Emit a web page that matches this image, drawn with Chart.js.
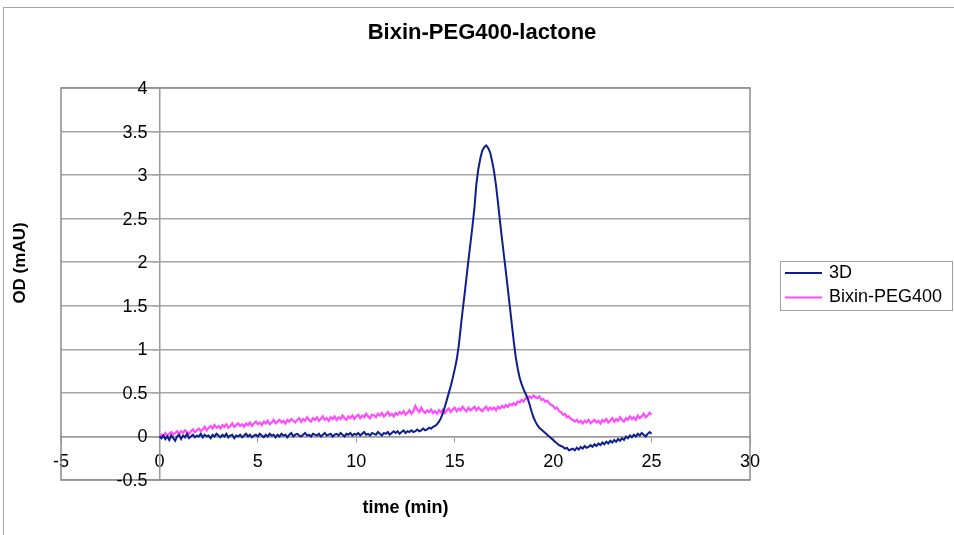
<!DOCTYPE html>
<html>
<head>
<meta charset="utf-8">
<script src="https://cdn.jsdelivr.net/npm/chart.js@4/dist/chart.umd.min.js"></script>
<style>
  html, body { margin: 0; padding: 0; background: #fff; }
  #wrap { width: 954px; height: 535px; position: relative; }
</style>
</head>
<body>
<div id="wrap"><canvas id="myChart" width="954" height="535"></canvas></div>
<script>
// sampling grid of the traces (min)
const timeStart = 0;
const timeStep = 0.1;

// 3D, one row per minute (0.1 min steps), 0 -> 25 min
const od3D = [
  0.00,-0.02,0.01,-0.03,0.00,-0.04,0.01,-0.02,-0.05,0.00,
  0.02,-0.03,0.01,-0.01,0.03,-0.02,0.00,0.02,-0.01,0.01,
  0.00,0.03,-0.01,0.02,0.00,0.01,-0.02,0.02,0.00,0.03,
  0.01,-0.01,0.02,0.00,0.03,-0.01,0.01,0.02,-0.02,0.01,
  0.00,0.02,-0.01,0.01,0.03,0.00,0.02,-0.01,0.01,0.02,
  0.00,0.03,0.01,-0.01,0.02,0.00,0.03,0.01,0.02,-0.01,
  0.02,0.00,0.03,0.01,0.02,-0.01,0.02,0.04,0.00,0.02,
  0.03,0.01,0.00,0.02,0.04,0.01,0.02,0.00,0.03,0.02,
  0.01,0.03,0.00,0.02,0.04,0.01,0.02,0.03,0.00,0.02,
  0.03,0.01,0.04,0.02,0.00,0.03,0.02,0.04,0.01,0.03,
  0.02,0.04,0.01,0.03,0.05,0.02,0.03,0.01,0.04,0.03,
  0.02,0.05,0.03,0.01,0.04,0.03,0.05,0.02,0.04,0.06,
  0.04,0.06,0.03,0.05,0.07,0.04,0.06,0.05,0.07,0.05,
  0.06,0.08,0.06,0.07,0.09,0.07,0.08,0.10,0.09,0.11,
  0.12,0.14,0.17,0.21,0.27,0.34,0.42,0.50,0.58,0.67,
  0.77,0.88,1.03,1.24,1.44,1.63,1.83,2.03,2.22,2.41,
  2.62,2.90,3.07,3.19,3.28,3.32,3.34,3.31,3.26,3.16,
  3.04,2.88,2.68,2.47,2.27,2.08,1.89,1.69,1.49,1.29,
  1.09,0.91,0.78,0.67,0.60,0.54,0.49,0.44,0.37,0.29,
  0.22,0.17,0.13,0.10,0.08,0.06,0.04,0.02,0.00,-0.02,
  -0.04,-0.06,-0.08,-0.10,-0.11,-0.12,-0.14,-0.13,-0.16,-0.15,
  -0.14,-0.16,-0.13,-0.15,-0.12,-0.14,-0.11,-0.13,-0.12,-0.10,
  -0.12,-0.09,-0.11,-0.08,-0.10,-0.07,-0.09,-0.06,-0.08,-0.05,
  -0.07,-0.04,-0.06,-0.03,-0.05,-0.02,-0.04,0.00,-0.02,0.01,
  -0.01,0.02,0.00,0.03,0.01,0.04,0.02,0.00,0.03,0.05,
  0.03
];

// Bixin-PEG400, same grid
const odBixin = [
  -0.01,0.02,0.00,0.04,0.01,0.03,0.05,0.02,0.04,0.06,
  0.03,0.06,0.04,0.07,0.05,0.03,0.06,0.08,0.05,0.07,
  0.09,0.06,0.08,0.11,0.07,0.10,0.12,0.09,0.13,0.10,
  0.12,0.09,0.13,0.11,0.14,0.10,0.12,0.15,0.11,0.13,
  0.15,0.12,0.14,0.11,0.15,0.13,0.16,0.12,0.15,0.17,
  0.14,0.16,0.13,0.17,0.15,0.18,0.14,0.16,0.19,0.15,
  0.17,0.19,0.16,0.18,0.15,0.19,0.17,0.20,0.18,0.16,
  0.19,0.21,0.17,0.20,0.18,0.22,0.19,0.17,0.21,0.19,
  0.22,0.18,0.20,0.23,0.19,0.21,0.18,0.22,0.20,0.23,
  0.19,0.22,0.20,0.24,0.21,0.19,0.23,0.21,0.24,0.20,
  0.23,0.25,0.21,0.24,0.22,0.26,0.23,0.21,0.25,0.24,
  0.22,0.26,0.24,0.27,0.23,0.25,0.28,0.24,0.26,0.23,
  0.27,0.25,0.28,0.26,0.29,0.25,0.27,0.30,0.26,0.29,
  0.35,0.31,0.28,0.33,0.29,0.27,0.30,0.28,0.31,0.27,
  0.29,0.26,0.30,0.28,0.31,0.27,0.30,0.32,0.28,0.31,
  0.33,0.29,0.32,0.30,0.34,0.31,0.29,0.33,0.30,0.32,
  0.34,0.30,0.33,0.31,0.29,0.32,0.34,0.30,0.33,0.31,
  0.33,0.30,0.34,0.32,0.35,0.33,0.36,0.34,0.37,0.36,
  0.38,0.36,0.40,0.39,0.42,0.40,0.44,0.43,0.46,0.44,
  0.47,0.45,0.44,0.46,0.42,0.43,0.40,0.41,0.38,0.36,
  0.35,0.32,0.33,0.29,0.28,0.25,0.26,0.22,0.23,0.20,
  0.19,0.17,0.19,0.16,0.18,0.15,0.18,0.16,0.19,0.15,
  0.17,0.19,0.16,0.18,0.15,0.19,0.17,0.20,0.16,0.18,
  0.21,0.17,0.20,0.18,0.22,0.19,0.17,0.21,0.19,0.23,
  0.20,0.22,0.19,0.24,0.21,0.23,0.26,0.22,0.24,0.27,
  0.25
];

const xTickValues = [-5, 0, 5, 10, 15, 20, 25, 30];
const yTickValues = [-0.5, 0, 0.5, 1, 1.5, 2, 2.5, 3, 3.5, 4];

const FONT = "'Liberation Sans', Arial, Helvetica, sans-serif";

function toPoints(values) {
  return values.map((v, i) => ({ x: +(timeStart + i * timeStep).toFixed(2), y: v }));
}

// cadre, titres, étiquettes Y et légende dessinés à la main (style Excel)
const excelDecor = {
  id: "excelDecor",
  beforeDraw(chart) {
    const c = chart.ctx;
    c.save();
    c.fillStyle = "#fff";
    c.fillRect(0, 0, chart.width, chart.height);
    // cadre extérieur : seuls les bords haut et gauche sont visibles
    c.strokeStyle = "#a8a8a8";
    c.lineWidth = 1;
    c.strokeRect(3.5, 7.5, 990, 560);
    c.restore();
  },
  beforeDatasetsDraw(chart) {
    const a = chart.chartArea;
    const c = chart.ctx;
    c.save();
    c.strokeStyle = "#8c8c8c";
    c.lineWidth = 1.5;
    c.strokeRect(a.left, a.top, a.right - a.left, a.bottom - a.top);
    c.restore();
  },
  afterDraw(chart) {
    const a = chart.chartArea;
    const c = chart.ctx;
    const xs = chart.scales.x;
    const ys = chart.scales.y;

    // y tick labels: Chart.js ignores padding when the axis sits at x = 0
    c.save();
    c.fillStyle = "#000";
    c.font = "18px " + FONT;
    c.textAlign = "right";
    c.textBaseline = "middle";
    const x0 = xs.getPixelForValue(0);
    yTickValues.forEach((v) => {
      c.fillText(String(v), x0 - 12, ys.getPixelForValue(v) + 1);
    });
    c.restore();

    c.save();
    c.fillStyle = "#000";
    c.textAlign = "center";
    c.textBaseline = "middle";
    c.font = "bold 22px " + FONT;
    c.fillText("Bixin-PEG400-lactone", 482, 33);
    c.font = "bold 18px " + FONT;
    c.fillText("time (min)", (a.left + a.right) / 2, 508);
    c.font = "bold 17px " + FONT;
    c.translate(20, 263);
    c.rotate(-Math.PI / 2);
    c.fillText("OD (mAU)", 0, 0);
    c.restore();

    // légende
    c.save();
    c.strokeStyle = "#a0a0a0";
    c.lineWidth = 1;
    c.strokeRect(780.5, 261.5, 172, 49);
    c.font = "18px " + FONT;
    c.textAlign = "left";
    c.textBaseline = "middle";
    chart.data.datasets.forEach((ds, i) => {
      const y = 273 + i * 24.5;
      c.strokeStyle = ds.borderColor;
      c.lineWidth = 2;
      c.beginPath();
      c.moveTo(785, y);
      c.lineTo(822, y);
      c.stroke();
      c.fillStyle = "#000";
      c.fillText(ds.label, 829, y);
    });
    c.restore();
  },
};

const ctx = document.getElementById("myChart").getContext("2d");
new Chart(ctx, {
  type: "line",
  data: {
    datasets: [
      {
        label: "3D",
        data: toPoints(od3D),
        borderColor: "#0d1f8e",
        borderWidth: 2,
        pointRadius: 0,
        tension: 0,
      },
      {
        label: "Bixin-PEG400",
        data: toPoints(odBixin),
        borderColor: "#ff4cff",
        borderWidth: 2.2,
        pointRadius: 0,
        tension: 0,
      },
    ],
  },
  options: {
    responsive: false,
    animation: false,
    layout: {
      padding: { left: 61, top: 88, right: 204, bottom: 55 },
    },
    plugins: {
      legend: { display: false },
      title: { display: false },
      tooltip: { enabled: false },
    },
    scales: {
      x: {
        type: "linear",
        min: -5,
        max: 30,
        position: { y: 0 },
        afterBuildTicks: (scale) => {
          scale.ticks = xTickValues.map((v) => ({ value: v }));
        },
        ticks: {
          color: "#000",
          font: { family: FONT, size: 18 },
          padding: 10,
          maxRotation: 0,
          autoSkip: false,
        },
        grid: {
          drawOnChartArea: false,
          drawTicks: true,
          tickLength: 5,
          color: "#9a9a9a",
        },
        border: { color: "#9a9a9a", width: 1.5 },
      },
      y: {
        type: "linear",
        min: -0.5,
        max: 4,
        position: { x: 0 },
        afterBuildTicks: (scale) => {
          scale.ticks = yTickValues.map((v) => ({ value: v }));
        },
        ticks: { display: false },
        grid: {
          color: "#a5a5a5",
          lineWidth: 1.5,
          tickLength: 7,
        },
        border: { color: "#9a9a9a", width: 1.5 },
      },
    },
  },
  plugins: [excelDecor],
});
</script>
</body>
</html>
